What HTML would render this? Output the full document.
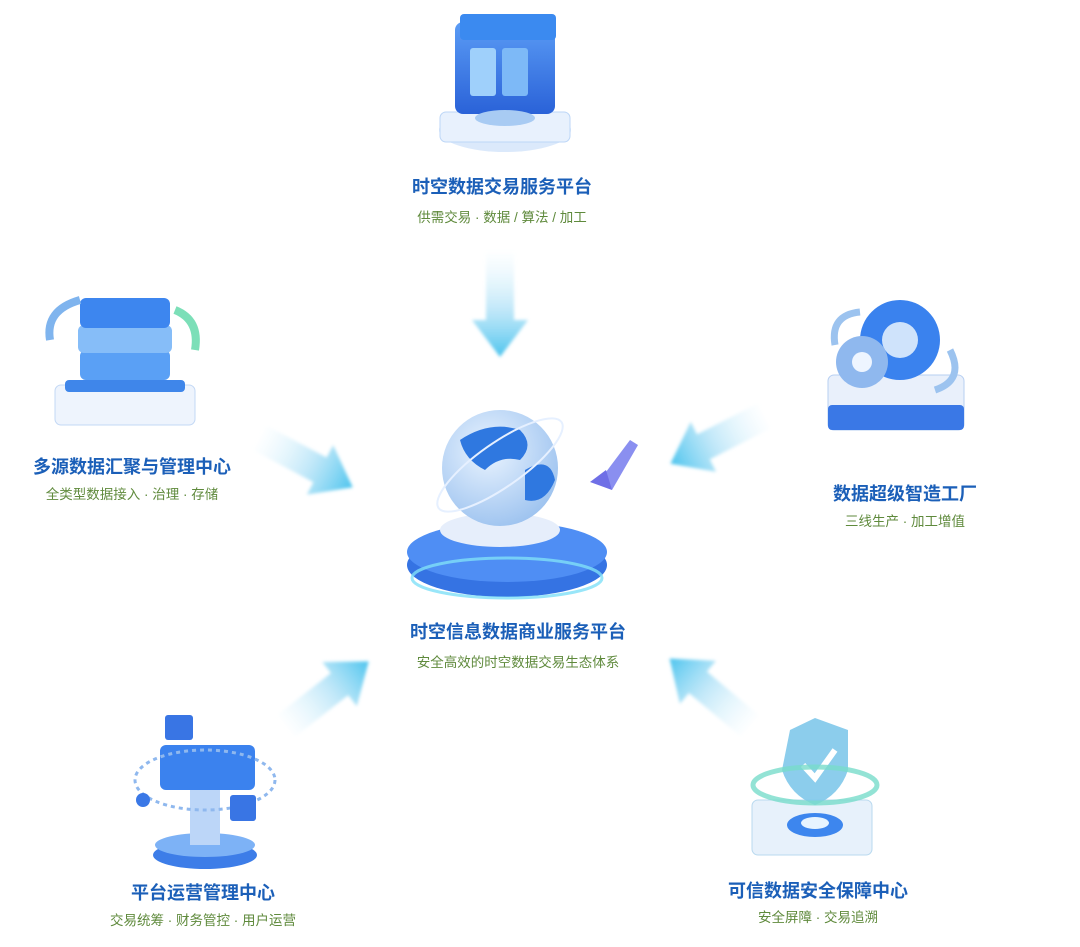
<!DOCTYPE html>
<html><head><meta charset="utf-8"><style>
html,body{margin:0;padding:0;background:#fff}
svg{display:block}
.t{font-family:"Liberation Sans","Noto Sans CJK SC",sans-serif;font-weight:bold;fill:#1b5fb8;font-size:18px;text-anchor:middle}
.s{font-family:"Liberation Sans","Noto Sans CJK SC",sans-serif;fill:#5f8a3c;font-size:13.5px;text-anchor:middle}
</style></head><body>
<svg width="1080" height="947" viewBox="0 0 1080 947" xmlns="http://www.w3.org/2000/svg">
<defs>
<linearGradient id="ar" x1="0" y1="0" x2="1" y2="0">
<stop offset="0" stop-color="#d6f1fc" stop-opacity="0.05"/>
<stop offset="0.55" stop-color="#a6def6" stop-opacity="0.7"/>
<stop offset="1" stop-color="#4cc4ee"/>
</linearGradient>
<radialGradient id="gl" cx="0.4" cy="0.35" r="0.7">
<stop offset="0" stop-color="#eaf4ff"/><stop offset="1" stop-color="#9cc2ef"/>
</radialGradient>
<linearGradient id="bl" x1="0" y1="0" x2="0" y2="1">
<stop offset="0" stop-color="#5b9cf5"/><stop offset="1" stop-color="#2a62d8"/>
</linearGradient>
<filter id="bf"><feGaussianBlur stdDeviation="1.5"/></filter>
<g id="arrow"><path d="M0,-14 L68,-14 L68,-28 L105,0 L68,28 L68,14 L0,14 Z" fill="url(#ar)" filter="url(#bf)"/></g>
</defs>

<use href="#arrow" transform="translate(500,252) rotate(90)"/>
<use href="#arrow" transform="translate(260,438) rotate(28)"/>
<use href="#arrow" transform="translate(764,416) rotate(153)"/>
<use href="#arrow" transform="translate(286,726) rotate(-38)"/>
<use href="#arrow" transform="translate(750,726) rotate(-140)"/>

<!-- top icon -->
<ellipse cx="505" cy="130" rx="66" ry="22" fill="#dbe9fb"/>
<rect x="440" y="112" width="130" height="30" rx="6" fill="#e8f1fd" stroke="#bcd6f7"/>
<rect x="455" y="22" width="100" height="92" rx="8" fill="url(#bl)"/>
<rect x="460" y="14" width="96" height="26" rx="4" fill="#3b8af0"/>
<rect x="470" y="48" width="26" height="48" rx="3" fill="#9fd0fb"/>
<rect x="502" y="48" width="26" height="48" rx="3" fill="#7db9f7"/>
<ellipse cx="505" cy="118" rx="30" ry="8" fill="#a8cbf3"/>

<!-- left icon -->
<rect x="55" y="385" width="140" height="40" rx="6" fill="#eef4fd" stroke="#c3d8f5"/>
<rect x="65" y="380" width="120" height="12" rx="4" fill="#3f86ea"/>
<rect x="80" y="350" width="90" height="30" rx="6" fill="#5aa0f5"/>
<rect x="78" y="325" width="94" height="28" rx="6" fill="#86bdf8"/>
<rect x="80" y="298" width="90" height="30" rx="6" fill="#3d86ef"/>
<path d="M50,340 Q45,310 80,300" stroke="#7fb4ee" stroke-width="8" fill="none"/>
<path d="M175,310 Q200,320 195,350" stroke="#7cdfb8" stroke-width="8" fill="none"/>

<!-- right icon -->
<rect x="828" y="375" width="136" height="55" rx="6" fill="#e9f0fb" stroke="#b7cff2"/>
<rect x="828" y="405" width="136" height="25" rx="4" fill="#3a78e6"/>
<circle cx="900" cy="340" r="40" fill="#3a82ee"/>
<circle cx="900" cy="340" r="18" fill="#cfe3fb"/>
<circle cx="862" cy="362" r="26" fill="#8fb8ee"/>
<circle cx="862" cy="362" r="10" fill="#eef5ff"/>
<path d="M835,345 Q830,315 860,312" stroke="#9cc3ef" stroke-width="7" fill="none"/>
<path d="M950,350 Q965,380 935,390" stroke="#9cc3ef" stroke-width="7" fill="none"/>

<!-- center -->
<ellipse cx="507" cy="565" rx="100" ry="32" fill="#3573e3"/>
<ellipse cx="507" cy="552" rx="100" ry="30" fill="#4f8ef4"/>
<ellipse cx="507" cy="578" rx="95" ry="20" fill="none" stroke="#7fe0f8" stroke-width="3" opacity="0.8"/>
<ellipse cx="500" cy="530" rx="60" ry="17" fill="#e6eefb"/>
<circle cx="500" cy="468" r="58" fill="url(#gl)"/>
<path d="M460,440 Q490,420 520,430 Q535,445 520,460 Q500,455 485,470 Q465,460 460,440Z" fill="#2f78e0"/>
<path d="M525,470 Q550,455 555,480 Q545,505 525,500Z" fill="#2f78e0"/>
<ellipse cx="500" cy="465" rx="75" ry="22" fill="none" stroke="#e6f0ff" stroke-width="2" transform="rotate(-35 500 465)"/>
<path d="M600,480 L630,440 L638,445 L612,490Z" fill="#8a8ff0"/>
<path d="M590,482 L606,470 L612,490Z" fill="#6f6fe6"/>

<!-- bottom left icon -->
<ellipse cx="205" cy="855" rx="52" ry="14" fill="#3d7de8"/>
<ellipse cx="205" cy="845" rx="50" ry="12" fill="#7db2f6"/>
<rect x="190" y="790" width="30" height="55" fill="#bcd6f8"/>
<rect x="160" y="745" width="95" height="45" rx="6" fill="#3b82ee"/>
<ellipse cx="205" cy="780" rx="70" ry="30" fill="none" stroke="#8fb8ee" stroke-width="3" stroke-dasharray="4 4"/>
<rect x="165" y="715" width="28" height="25" rx="3" fill="#3975e4"/>
<rect x="230" y="795" width="26" height="26" rx="3" fill="#3975e4"/>
<circle cx="143" cy="800" r="7" fill="#3a78e6"/>

<!-- bottom right icon -->
<rect x="752" y="800" width="120" height="55" rx="6" fill="#e7f1fb" stroke="#b9d9ef"/>
<ellipse cx="815" cy="825" rx="28" ry="12" fill="#3d86ee"/>
<ellipse cx="815" cy="823" rx="14" ry="6" fill="#e7f4ff"/>
<path d="M790,730 L815,718 L848,730 L848,770 Q840,795 815,805 Q790,795 782,770 Z" fill="#7fc8ea" opacity="0.9"/>
<path d="M803,765 L815,778 L835,750" stroke="#ffffff" stroke-width="6" fill="none"/>
<ellipse cx="815" cy="785" rx="62" ry="18" fill="none" stroke="#78dccb" stroke-width="5" opacity="0.8"/>

<!-- text -->
<text class="t" x="502" y="193">时空数据交易服务平台</text>
<text class="s" x="502" y="222">供需交易 · 数据 / 算法 / 加工</text>
<text class="t" x="132" y="473">多源数据汇聚与管理中心</text>
<text class="s" x="132" y="499">全类型数据接入 · 治理 · 存储</text>
<text class="t" x="905" y="500">数据超级智造工厂</text>
<text class="s" x="905" y="526">三线生产 · 加工增值</text>
<text class="t" x="518" y="638">时空信息数据商业服务平台</text>
<text class="s" x="518" y="667">安全高效的时空数据交易生态体系</text>
<text class="t" x="203" y="899">平台运营管理中心</text>
<text class="s" x="203" y="925">交易统筹 · 财务管控 · 用户运营</text>
<text class="t" x="818" y="897">可信数据安全保障中心</text>
<text class="s" x="818" y="922">安全屏障 · 交易追溯</text>
</svg>
</body></html>
